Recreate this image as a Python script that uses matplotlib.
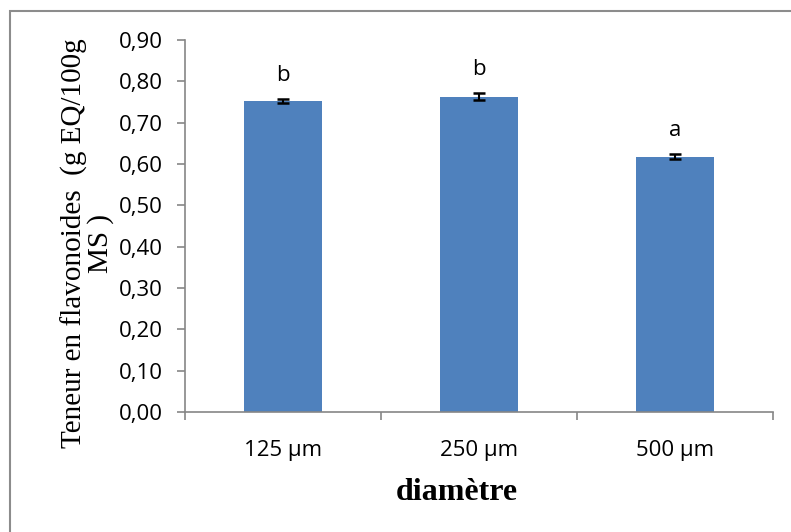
import numpy as np
import matplotlib
matplotlib.use('Agg')
import matplotlib.pyplot as plt
from matplotlib.patches import Rectangle
from matplotlib.ticker import FuncFormatter, FixedLocator

# data
categories = ['125 µm', '250 µm', '500 µm']
values = [0.752, 0.763, 0.618]
errors = [0.005, 0.008, 0.005]
letters = ['b', 'b', 'a']

bar_color = '#4F81BD'
axis_color = '#868686'
tick_font = 'Open Sans'
label_font = 'Liberation Serif'

fig = plt.figure(figsize=(7.91, 5.32), dpi=100)
ax = fig.add_axes([185 / 791, 1 - 412 / 532, 588 / 791, 372 / 532])

xs = np.arange(1, len(categories) + 1)
ax.bar(xs, values, width=0.4, color=bar_color, zorder=2)
ax.errorbar(xs, values, yerr=errors, fmt='none', ecolor='black',
            elinewidth=1.5, capsize=4.5, capthick=1.8, zorder=3)

for x, v, e, t in zip(xs, values, errors, letters):
    ax.annotate(t, (x, v + e), xytext=(0, 17), textcoords='offset points',
                ha='center', va='center', fontsize=16, family=tick_font)

ax.set_xlim(0.5, 3.5)
ax.set_ylim(0, 0.9)
ax.set_yticks(np.arange(0, 0.91, 0.1))
ax.yaxis.set_major_formatter(FuncFormatter(lambda v, p: f'{v:.2f}'.replace('.', ',')))
ax.set_xticks(xs)
ax.set_xticklabels(categories)
ax.xaxis.set_minor_locator(FixedLocator([0.5, 1.5, 2.5, 3.5]))

for side in ['top', 'right']:
    ax.spines[side].set_visible(False)
for side in ['left', 'bottom']:
    ax.spines[side].set_color(axis_color)
    ax.spines[side].set_linewidth(1.2)

ax.tick_params(axis='y', direction='out', length=6, width=1.2, color=axis_color,
               labelsize=16, pad=10)
ax.tick_params(axis='x', which='major', length=0, labelsize=16, pad=20)
ax.tick_params(axis='x', which='minor', direction='out', length=6, width=1.2,
               color=axis_color)
for lab in ax.get_xticklabels() + ax.get_yticklabels():
    lab.set_family(tick_font)

fig.text(87 / 791, 1 - 243 / 532, 'Teneur en flavonoides  (g EQ/100g\nMS )',
         rotation=90, ha='center', va='center', multialignment='center',
         fontsize=21, family=label_font, linespacing=0.95)
fig.text(457 / 791, 1 - 493 / 532, 'diamètre', ha='center', va='center',
         fontsize=23, fontweight='bold', family=label_font)

# chart frame, only top and left edges are visible in the reference
fig.patches.append(Rectangle((10 / 791, -1), 2, 2 - 11 / 532, transform=fig.transFigure,
                             fill=False, edgecolor='#8c8c8c', linewidth=1.5))

fig.savefig('out.png', dpi=100)
